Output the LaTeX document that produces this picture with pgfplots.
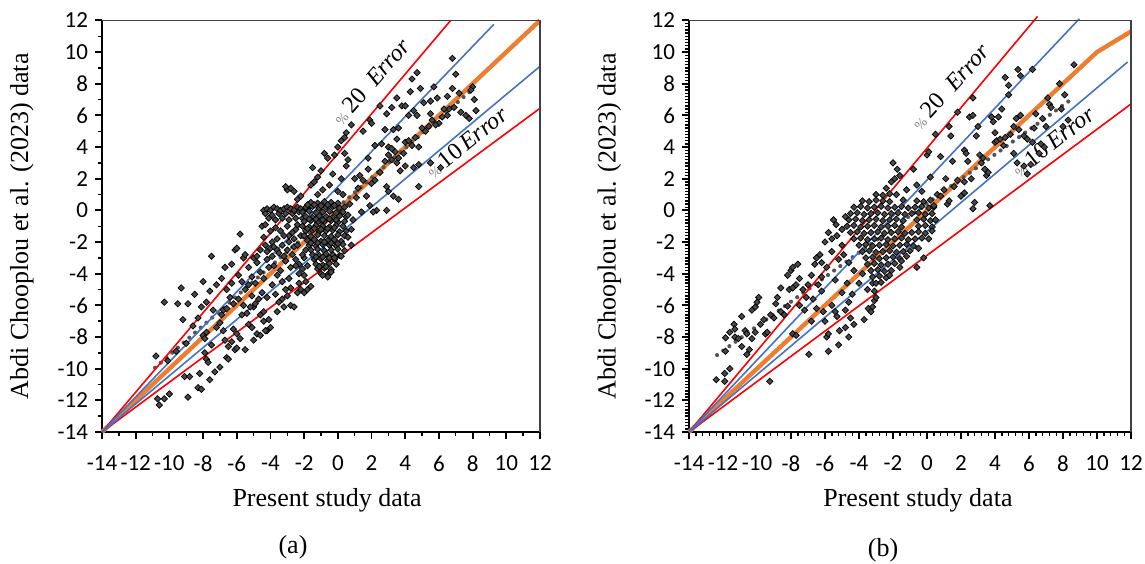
\documentclass[border=0pt]{standalone}
\usepackage{fontspec}
\setmainfont{Liberation Serif}
\newfontfamily\tickfont{Carlito}
\usepackage{pgfplots}
\pgfplotsset{compat=1.18}
\definecolor{exred}{RGB}{255,0,0}
\definecolor{exblue}{RGB}{68,114,196}
\definecolor{exorange}{RGB}{237,125,49}
\definecolor{ptfill}{RGB}{72,72,72}
\definecolor{trend}{RGB}{85,85,85}
\pgfplotsset{
 panel/.style={
  scale only axis, anchor=south west,
  height=205.8pt,
  xmin=-14,xmax=12,ymin=-14,ymax=12,
  xtick={-14,-12,...,12}, ytick={-14,-12,...,12},
  axis x line*=bottom, axis y line*=left,
  axis line style={line width=1.1pt, -},
  tick style={line width=0.9pt, black},
  minor tick style={line width=0.7pt, black},
  tick align=outside,
  major tick length=3.5pt, minor tick length=2pt,
  ticklabel style={font=\tickfont\fontsize{11.5}{13}\selectfont},
  xticklabel style={yshift=-5pt},
  /pgf/number format/assume math mode=true,
  xlabel={Present study data}, ylabel={Abdi Chooplou et al. (2023) data},
  clip=false,
 },
 pts/.style={only marks, mark=square*, mark size=1.12pt, mark options={rotate=45, fill=ptfill, draw=black, line width=0.35pt}},
 redl/.style={exred, line width=0.8pt},
 bluel/.style={exblue, line width=0.8pt},
 orl/.style={exorange, line width=2.2pt},
 trl/.style={trend, line width=2.1pt, line cap=round, dash pattern=on 0pt off 3.8pt},
}
\begin{document}
\begin{tikzpicture}
\path[use as bounding box] (0,0) rectangle (572.5pt,281.5pt);
% ---------------- panel (a)
\begin{axis}[panel, width=219pt, at={(51pt,65.5pt)},
  minor x tick num=1, minor y tick num=1,
  every axis x label/.style={at={(rel axis cs:0.514,-0.165)}, anchor=center, font=\rmfamily\fontsize{13}{15}\selectfont},
  every axis y label/.style={at={(rel axis cs:-0.183,0.5)}, anchor=center, rotate=90, font=\rmfamily\fontsize{13}{15}\selectfont}]
\addplot[orl] coordinates {(-14,-14) (12,12)};
\addplot[trl] coordinates {(-10.85,-9.94) (8.0,7.66)};
\addplot[pts] coordinates {
(-10.8,-9.2) (-10.7,-11.9) (-10.6,-12.3) (-10.3,-11.9) (-10.0,-11.6) (-10.3,-5.8) (-9.3,-4.9) (-9.2,-6.9) (-9.5,-5.9) (-8.9,-5.9)
(-8.5,-5.3) (-9.1,-10.5) (-8.8,-10.5) (-8.9,-11.8) (-8.0,-4.5) (-8.1,-6.1) (-7.8,-5.8) (-8.0,-7.9) (-7.8,-7.7) (-7.9,-8.1)
(-8.3,-11.2) (-8.1,-11.3) (-8.2,-10.3) (-7.9,-9.0) (-7.8,-9.4) (-7.7,-9.6) (-7.6,-10.7) (-7.5,-8.5) (-7.5,-2.9) (-7.2,-4.7)
(-7.3,-10.2) (-7.0,-9.9) (-6.9,-4.3) (-6.7,-3.6) (-6.8,-6.3) (-6.6,-6.2) (-6.7,-8.2) (-6.5,-8.6) (-6.6,-9.3) (-6.5,-9.4)
(-6.3,-3.4) (-6.1,-2.5) (-6.0,-2.4) (-6.2,-7.5) (-6.0,-7.8) (-6.4,-5.5) (-6.2,-5.9) (-7.0,-7.1) (-7.2,-7.4) (-6.9,-6.6)
(-7.4,-6.3) (-6.8,-7.6) (-6.3,-8.3) (-6.1,-8.8) (-7.6,-5.1) (-8.3,-6.8) (-8.6,-7.3) (-9.0,-8.4) (-9.6,-8.9) (-10.1,-9.5)
(-5.8,-1.5) (-5.6,-3.0) (-5.5,-2.8) (-5.7,-4.5) (-5.5,-5.0) (-5.4,-6.5) (-5.6,-6.0) (-5.5,-8.8) (-5.8,-8.1) (-6.0,-8.7)
(-5.3,-7.2) (-5.1,-7.4) (-5.0,-3.0) (-4.8,-3.3) (-5.0,-8.2) (-4.8,-7.8) (-4.6,-7.9) (-4.7,-5.6) (-4.5,-5.2) (-4.4,-4.3)
(-4.6,-6.6) (-4.4,-6.4) (-4.2,-7.6) (-4.0,-7.4) (-4.1,-6.9) (-4.5,-1.0) (-4.3,-0.9) (-5.0,-6.1) (-4.4,-7.0) (-4.3,-7.6)
(-5.1,-5.4) (-5.3,-4.7) (-5.9,-5.6) (-5.7,-6.6) (-5.2,-6.1) (-4.9,-4.6) (-4.8,-2.9) (-4.6,-2.5) (-4.4,-1.7) (-4.6,-3.9)
(-6.6,-5.0) (-6.3,-4.6) (-5.9,-4.1) (-5.3,-3.6) (-5.1,-4.2) (-4.9,-5.9) (-4.2,-5.5) (-3.9,-4.7) (-3.6,-6.4) (-3.3,-5.6)
(-4.3,-2.2) (-4.0,-2.4) (-3.6,-2.5) (-3.2,-2.9) (-2.9,-2.0) (-2.6,-2.3) (-2.9,-1.6) (-2.5,-1.2) (-2.2,-1.6) (-2.3,-3.4)
(-2.0,-3.0) (-2.1,-3.7) (-1.9,-2.5) (-2.4,-0.9) (-2.1,-0.5)
(-4.4,0.0) (-4.3,-0.2) (-4.2,0.1) (-4.0,0.0) (-3.9,-0.3) (-3.8,0.2) (-3.6,0.1) (-3.5,-0.2) (-3.4,0.0) (-3.2,0.1)
(-3.1,-0.2) (-3.0,0.2) (-2.8,0.1) (-2.7,-0.2) (-2.6,0.0) (-2.4,0.2) (-2.3,-0.1) (-2.2,0.1) (-2.0,0.0) (-1.8,0.1)
(-4.1,-0.5) (-3.7,-0.6) (-3.3,-0.5) (-2.9,-0.6) (-2.5,-0.5)
(-4.2,-2.6) (-3.9,-2.9) (-4.2,-3.1) (-3.8,-3.5) (-3.6,-4.1) (-3.4,-3.8) (-3.7,-5.3) (-3.5,-5.8) (-3.2,-6.1) (-3.0,-5.4)
(-3.2,-1.6) (-3.3,-2.2) (-3.6,-1.8) (-3.9,-2.0) (-4.0,-1.3) (-3.7,-1.1) (-3.4,-1.3) (-3.0,-1.0) (-2.7,-1.4) (-3.0,-2.5)
(-2.7,-2.8) (-3.1,-3.2) (-2.8,-3.6) (-2.5,-3.1) (-2.4,-2.2) (-2.6,-1.8) (-3.5,-2.7) (-3.8,-2.3) (-4.1,-3.6) (-3.3,-4.5)
(-2.9,-4.3) (-2.8,-4.9) (-3.1,-5.0)
(-3.0,1.3) (-2.8,1.4) (-2.6,1.2) (-3.1,1.5) (-2.4,0.7) (-2.2,0.9)
(-2.8,-6.0) (-2.6,-6.1) (-2.4,-5.2) (-2.2,-5.0) (-2.0,-5.2) (-1.8,-5.0) (-1.6,-4.8) (-2.5,-3.5) (-2.3,-4.0) (-2.0,-4.1)
(-1.8,-3.5) (-2.1,-2.8) (-2.3,-4.6) (-1.9,-4.5)
(-1.6,0.5) (-1.2,0.45) (-0.8,0.55) (-0.4,0.5) (0.0,0.45)
(-1.9,0.2) (-1.5,0.25) (-1.1,0.15) (-0.7,0.2) (-0.3,0.25) (0.1,0.15) (0.4,0.2)
(-2.1,-0.1) (-1.7,-0.05) (-1.3,-0.15) (-0.9,-0.1) (-0.5,-0.05) (-0.1,-0.15) (0.3,-0.1)
(-1.9,-0.4) (-1.5,-0.45) (-1.1,-0.35) (-0.7,-0.4) (-0.3,-0.45) (0.1,-0.35) (0.5,-0.4)
(-2.0,-0.7) (-1.6,-0.65) (-1.2,-0.75) (-0.8,-0.7) (-0.4,-0.65) (0.0,-0.75) (0.4,-0.7)
(-2.1,-1.0) (-1.7,-1.05) (-1.3,-0.95) (-0.9,-1.0) (-0.5,-1.05) (-0.1,-0.95) (0.3,-1.0)
(-1.9,-1.3) (-1.5,-1.25) (-1.1,-1.35) (-0.7,-1.3) (-0.3,-1.25) (0.1,-1.35) (0.5,-1.3)
(-2.0,-1.6) (-1.6,-1.65) (-1.2,-1.55) (-0.8,-1.6) (-0.4,-1.65) (0.0,-1.55) (0.4,-1.6)
(-1.8,-1.9) (-1.4,-1.85) (-1.0,-1.95) (-0.6,-1.9) (-0.2,-1.85) (0.2,-1.95)
(-1.7,-2.2) (-1.3,-2.25) (-0.9,-2.15) (-0.5,-2.2) (-0.1,-2.25) (0.3,-2.15)
(-1.6,-2.5) (-1.2,-2.45) (-0.8,-2.55) (-0.4,-2.5) (0.0,-2.45) (0.4,-2.55)
(-1.5,-2.8) (-1.1,-2.85) (-0.7,-2.75) (-0.3,-2.8) (0.1,-2.85)
(-1.4,-3.1) (-1.0,-3.05) (-0.6,-3.15) (-0.2,-3.1)
(-1.3,-3.4) (-0.9,-3.45) (-0.5,-3.35) (-0.1,-3.4)
(-1.2,-3.7) (-0.8,-3.65) (-0.4,-3.75) (-1.0,-4.0) (-0.6,-4.05)
(-1.8,0.35) (-1.4,0.35) (-1.0,0.3) (-0.6,0.35) (-0.2,0.3) (-1.7,-0.55) (-1.3,-0.55) (-0.9,-0.6) (-0.5,-0.55) (-0.1,-0.6)
(-1.8,-1.15) (-1.4,-1.15) (-1.0,-1.2) (-0.6,-1.15) (-0.2,-1.1) (-1.6,-2.05) (-1.2,-2.05) (-0.8,-2.0) (-0.4,-2.05) (0.0,-2.1)
(-1.3,-2.95) (-0.9,-2.95) (-0.5,-3.0) (-1.1,-3.55) (-0.7,-3.55)
(-1.5,2.7) (-1.6,1.6) (-1.4,1.8) (-1.2,2.1) (-1.0,2.5) (-0.8,3.6) (-0.6,3.3) (-0.2,3.5) (0.0,4.0) (0.2,4.4)
(0.4,4.6) (0.5,4.9) (0.8,5.4) (0.4,3.6) (0.6,3.2) (0.5,2.8) (0.2,2.0) (-0.9,1.3) (-0.5,1.6) (-0.3,2.3)
(0.0,1.2) (0.3,1.0) (-1.2,1.0) (0.7,0.4) (0.9,-0.6) (0.8,-1.2) (0.8,-2.2) (0.6,-1.7) (0.6,-0.3) (-0.6,-4.2)
(-0.9,-4.1) (-0.4,-3.9) (-0.2,-3.0) (0.2,-2.9)
(1.0,2.0) (1.3,2.2) (1.5,1.9) (1.7,0.9) (2.0,1.7) (2.2,1.9) (2.5,2.4) (2.8,3.1) (3.0,3.5) (3.2,3.2)
(3.4,3.7) (3.5,3.0) (3.7,2.5) (2.9,1.5) (3.0,1.2) (3.3,0.9) (3.6,0.7) (2.3,0.0) (2.1,-0.1) (2.9,0.0)
(1.2,1.4) (1.8,2.6) (1.1,0.8) (1.4,-0.1) (1.9,0.3)
(1.5,5.0) (1.9,5.7) (2.0,5.5) (2.5,6.6) (2.9,6.1) (3.2,6.5) (3.5,7.1) (3.8,6.6) (4.0,6.6) (4.4,8.3)
(4.7,8.7) (4.3,7.5) (4.9,7.7) (4.5,6.3) (4.7,6.0) (4.2,6.0)
(2.8,5.1) (3.3,5.1) (3.6,5.2) (2.6,4.2) (3.0,4.0) (3.2,3.9) (3.5,4.5) (2.2,4.1) (1.8,3.3)
(4.0,4.3) (4.2,4.4) (4.4,4.1) (4.6,4.6) (4.8,4.0) (5.0,5.2) (5.2,5.0) (5.4,5.3) (5.5,6.1) (5.6,5.7)
(5.1,6.8) (5.5,6.9) (5.9,7.1) (5.7,7.8) (3.9,3.6) (3.6,3.3)
(4.0,2.8) (4.5,2.7) (4.8,2.9) (4.8,1.5) (5.5,3.0) (6.1,2.7)
(6.0,5.5) (6.2,5.9) (6.5,6.0) (6.6,6.4) (6.9,6.5) (6.8,7.7) (6.5,7.2) (7.2,7.4) (7.0,8.6) (6.8,9.6)
(7.3,6.2) (7.6,6.0) (7.8,5.8) (8.0,7.8) (8.1,7.0) (8.2,6.3) (7.9,7.6) (6.3,6.4) (5.8,5.4)
};
\addplot[redl] coordinates {(-14,-14) (6.7,12)};
\addplot[redl] coordinates {(-14,-14) (12,6.45)};
\addplot[bluel] coordinates {(-14,-14) (9.26,11.75)};
\addplot[bluel] coordinates {(-14,-14) (12,9.1)};
\draw[line width=0.6pt, black!75] (rel axis cs:0,1) -- (rel axis cs:1,1) -- (rel axis cs:1,0);
\node[rotate=48.6, font=\fontsize{12}{14}\selectfont] at (axis cs:1.96,8.14) {{\color{gray}\fontsize{7}{8}\selectfont\%}\,20\ \ \textit{Error}};
\node[rotate=39, font=\fontsize{12}{14}\selectfont] at (axis cs:7.64,4.29) {{\color{gray}\fontsize{7}{8}\selectfont\%}\,10\,\textit{Error}};
\end{axis}
% ---------------- panel (b)
\begin{axis}[panel, width=221pt, at={(344.5pt,65.5pt)},
  minor x tick num=4, minor y tick num=9,
  every axis x label/.style={at={(rel axis cs:0.518,-0.165)}, anchor=center, font=\rmfamily\fontsize{13}{15}\selectfont},
  every axis y label/.style={at={(rel axis cs:-0.180,0.5)}, anchor=center, rotate=90, font=\rmfamily\fontsize{13}{15}\selectfont}]
\addplot[orl] coordinates {(-14,-14) (10,10) (12,11.3)};
\addplot[trl] coordinates {(-12.35,-9.14) (8.6,7.1)};
\addplot[pts] coordinates {
(-12.4,-10.7) (-11.9,-10.8) (-11.9,-10.3) (-11.6,-10.0) (-11.85,-8.05) (-11.85,-8.9) (-11.35,-7.2) (-11.3,-7.5) (-11.3,-8.0) (-11.1,-8.1)
(-10.9,-6.7) (-10.7,-7.6) (-10.6,-7.8) (-10.6,-9.1) (-10.45,-8.8) (-10.3,-6.3) (-10.1,-6.1) (-10.0,-5.8) (-9.9,-5.5) (-10.3,-8.1)
(-10.1,-7.7) (-9.5,-7.8) (-9.4,-7.7) (-9.25,-10.8) (-9.2,-6.6) (-9.0,-6.8) (-8.8,-5.5) (-8.6,-6.4) (-8.4,-6.6) (-8.2,-6.05)
(-8.1,-5.0) (-8.0,-3.8) (-7.9,-3.6) (-8.2,-4.1) (-7.9,-4.9) (-7.7,-4.7) (-7.6,-3.4) (-7.9,-7.8) (-7.7,-7.9) (-7.5,-4.3)
(-7.3,-5.0) (-7.1,-5.5) (-7.2,-6.3) (-6.95,-9.1) (-6.8,-7.0) (-6.8,-4.1) (-6.6,-3.4) (-6.5,-3.0) (-6.3,-2.8) (-6.4,-4.7)
(-6.2,-5.1) (-6.1,-6.4) (-6.0,-7.0) (-5.9,-8.0) (-5.8,-8.9) (-5.8,-7.8) (-5.8,-1.4) (-5.35,-0.9) (-5.6,-1.8) (-5.3,-1.6)
(-5.6,-6.0) (-5.4,-6.4) (-5.3,-6.7) (-5.2,-8.5) (-5.15,-7.6) (-4.8,-7.4) (-4.6,-8.0) (-4.5,-6.8) (-4.3,-7.2) (-4.8,-6.3)
(-4.6,-5.8) (-3.7,-6.9) (-3.45,-6.2) (-3.3,-6.4) (-3.2,-6.1) (-3.1,-5.7) (-3.0,-5.5) (-3.1,-5.1)
(-8.6,-4.9) (-8.9,-5.9) (-9.6,-6.9) (-10.9,-8.6) (-11.6,-7.7) (-9.8,-7.2) (-7.5,-6.0) (-7.0,-4.7) (-6.7,-5.6) (-6.5,-6.2)
(-6.2,-4.2) (-5.9,-3.6) (-5.6,-2.6) (-5.2,-3.1) (-5.0,-2.2) (-5.4,-4.4) (-5.0,-5.2) (-4.7,-4.6) (-4.4,-5.3)
(-5.5,-0.6) (-5.0,-1.2) (-4.8,-0.4) (-4.9,-2.8) (-4.6,-3.3) (-4.3,-3.8) (-4.0,-4.6) (-3.8,-4.0) (-3.5,-5.0) (-3.2,-4.6)
(-6.0,-2.0) (-6.2,-3.3)
(-3.0,1.0) (-2.6,0.95) (-2.2,1.05) (-1.8,1.0)
(-3.8,0.6) (-3.4,0.55) (-3.0,0.65) (-2.6,0.6) (-2.2,0.55) (-1.4,0.65) (-0.6,0.6) (-0.2,0.55) (0.2,0.65)
(-4.3,0.2) (-3.9,0.25) (-3.5,0.15) (-3.1,0.2) (-2.7,0.25) (-2.3,0.15) (-1.9,0.2) (-1.5,0.25) (-1.1,0.15) (-0.7,0.2) (-0.3,0.25) (0.1,0.15) (0.4,0.2)
(-4.5,-0.2) (-4.1,-0.15) (-3.7,-0.25) (-3.3,-0.2) (-2.9,-0.15) (-2.5,-0.25) (-2.1,-0.2) (-1.7,-0.15) (-1.3,-0.25) (-0.9,-0.2) (-0.5,-0.15) (-0.1,-0.25) (0.3,-0.2)
(-4.6,-0.6) (-4.2,-0.55) (-3.8,-0.65) (-3.4,-0.6) (-3.0,-0.55) (-2.6,-0.65) (-2.2,-0.6) (-1.8,-0.55) (-1.4,-0.65) (-0.6,-0.6) (-0.2,-0.55) (0.2,-0.65)
(-4.7,-1.0) (-4.3,-0.95) (-3.9,-1.05) (-3.5,-1.0) (-3.1,-0.95) (-2.7,-1.05) (-2.3,-1.0) (-1.9,-0.95) (-1.5,-1.05) (-0.5,-1.0) (-0.1,-0.95) (0.3,-1.05)
(-4.5,-1.4) (-4.1,-1.35) (-3.7,-1.45) (-3.3,-1.4) (-2.9,-1.35) (-2.5,-1.45) (-2.1,-1.4) (-1.7,-1.35) (-1.3,-1.45) (-0.9,-1.4) (-0.5,-1.35) (-0.1,-1.45)
(-4.3,-1.8) (-3.9,-1.75) (-3.5,-1.85) (-3.1,-1.8) (-2.7,-1.75) (-2.3,-1.85) (-1.9,-1.8) (-1.5,-1.75) (-1.1,-1.85) (-0.7,-1.8) (-0.3,-1.75)
(-4.0,-2.2) (-3.6,-2.15) (-3.2,-2.25) (-2.8,-2.2) (-2.4,-2.15) (-2.0,-2.25) (-1.6,-2.2) (-1.2,-2.15) (-0.8,-2.25)
(-3.8,-2.6) (-3.4,-2.55) (-3.0,-2.65) (-2.6,-2.6) (-2.2,-2.55) (-1.8,-2.65) (-1.4,-2.6) (-1.0,-2.55)
(-3.6,-3.0) (-3.2,-2.95) (-2.8,-3.05) (-2.4,-3.0) (-2.0,-2.95) (-1.6,-3.05)
(-3.5,-3.4) (-3.1,-3.35) (-2.7,-3.45) (-2.3,-3.4) (-1.9,-3.35)
(-3.3,-3.8) (-2.9,-3.75) (-2.5,-3.85) (-2.1,-3.8) (-3.2,-4.2) (-2.8,-4.15) (-2.4,-4.25) (-3.0,-4.6) (-2.7,-4.55)
(-2.0,3.0) (-1.75,2.6) (-1.9,2.0) (-2.1,1.8) (-1.6,2.2) (-0.8,2.6) (-2.4,1.4) (-1.2,1.3) (-0.6,1.6) (-0.3,1.2)
(0.0,3.5) (0.1,3.7) (0.2,2.1) (0.6,1.0) (0.4,0.3) (0.5,-0.6) (0.3,-1.3) (0.1,-1.8) (-0.5,-2.4) (-1.2,-2.9)
(-1.6,-3.6) (-2.2,-4.1) (-0.6,-3.6) (-0.2,-3.0) (-1.5,-3.2)
(0.8,0.9) (1.2,0.4) (1.6,1.5) (1.8,1.9) (2.0,0.9) (2.2,1.1) (2.6,2.0) (2.7,0.1) (2.8,0.5) (0.5,4.8)
(0.8,3.4) (1.3,5.3) (1.4,4.7) (1.8,6.2) (2.2,3.8) (2.3,3.6) (2.4,3.1) (2.5,5.9) (2.7,6.0) (2.7,7.1)
(2.9,4.7) (3.0,5.3) (3.1,3.5) (3.2,3.0) (3.3,3.3) (3.5,2.2) (3.6,2.4) (3.8,5.9) (3.9,5.6) (4.0,4.9)
(4.2,5.9) (4.4,6.4) (4.0,4.3) (4.1,4.4) (4.3,4.5) (4.6,4.6) (4.6,8.4) (4.8,7.9) (4.8,7.3) (5.25,5.8)
(5.4,5.1) (5.1,5.3) (5.35,8.9) (5.5,8.5) (5.1,3.6) (5.3,3.0) (5.7,2.8) (5.9,2.3) (6.1,2.9) (5.5,6.0)
(5.7,4.7) (5.9,4.5) (6.2,4.3) (6.2,8.9) (6.4,6.1) (6.3,5.2) (6.6,3.6) (6.7,4.2) (6.9,4.0) (7.2,6.7)
(7.1,7.1) (7.3,6.5) (6.8,5.8) (7.0,5.3) (7.8,8.0) (7.9,6.4) (8.1,7.3) (8.0,5.3) (8.3,5.7) (8.65,9.2)
(1.1,2.0) (1.5,3.1) (3.7,0.3) (1.0,1.3) (1.3,0.6) (2.2,1.8) (4.9,4.8) (3.4,2.6) (4.5,4.1)
};
\addplot[redl] coordinates {(-14,-14) (6.5,12.25)};
\addplot[redl] coordinates {(-14,-14) (12,6.72)};
\addplot[bluel] coordinates {(-14,-14) (8.96,12.1)};
\addplot[bluel] coordinates {(-14,-14) (11.8,9.37)};
\draw[line width=0.6pt, black!75] (rel axis cs:0,1) -- (rel axis cs:1,1) -- (rel axis cs:1,0);
\node[rotate=47.7, font=\fontsize{12}{14}\selectfont] at (axis cs:1.35,7.81) {{\color{gray}\fontsize{7}{8}\selectfont\%}\,20\ \ \textit{Error}};
\node[rotate=38.4, font=\fontsize{12}{14}\selectfont] at (axis cs:7.43,4.34) {{\color{gray}\fontsize{7}{8}\selectfont\%}\,10\,\textit{Error}};
\end{axis}
\node[font=\fontsize{13}{15}\selectfont] at (146.5pt,8pt) {(a)};
\node[font=\fontsize{13}{15}\selectfont] at (441.5pt,6.5pt) {(b)};
\end{tikzpicture}
\end{document}
